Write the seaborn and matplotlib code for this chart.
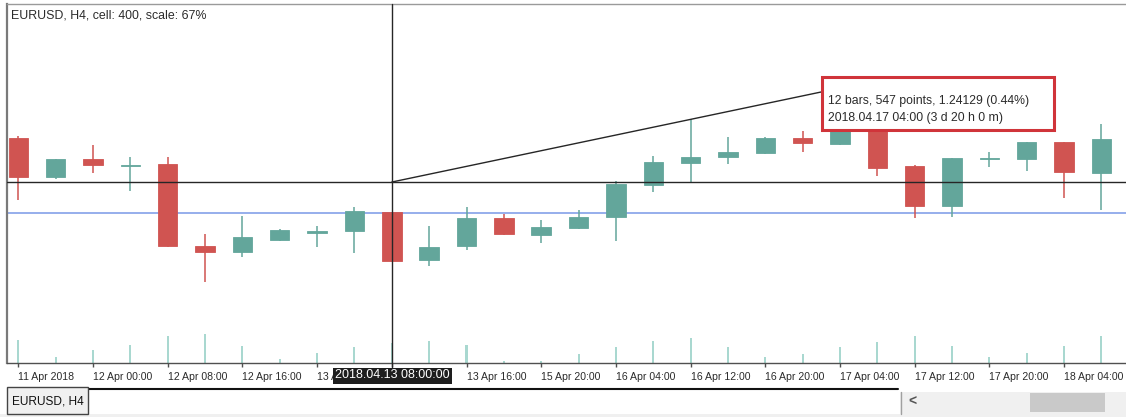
import matplotlib
matplotlib.use("Agg")
import matplotlib.pyplot as plt
from matplotlib.patches import Rectangle
from matplotlib.lines import Line2D
import numpy as np
import pandas as pd
import seaborn as sns

# ---- EURUSD H4 bars ----
symbol = "EURUSD"
timeframe = "H4"
opens = [1.23836, 1.23611, 1.23716, 1.23678, 1.23685, 1.23211, 1.23173, 1.23243, 1.23288, 1.23295,
         1.23406, 1.23126, 1.23208, 1.23374, 1.23274, 1.23314, 1.23377, 1.23565, 1.23691, 1.23726,
         1.23749, 1.23838, 1.23805, 1.23890, 1.23677, 1.23441, 1.23716, 1.23718, 1.23816, 1.23633]
highs = [1.23851, 1.23718, 1.23797, 1.23729, 1.23729, 1.23279, 1.23386, 1.23309, 1.23326, 1.23435,
         1.23408, 1.23326, 1.23435, 1.23398, 1.23361, 1.23421, 1.23588, 1.23732, 1.23949, 1.23846,
         1.23846, 1.23879, 1.24129, 1.23900, 1.23679, 1.23723, 1.23755, 1.23817, 1.23817, 1.23920]
lows = [1.23477, 1.23598, 1.23633, 1.23531, 1.23205, 1.22998, 1.23147, 1.23241, 1.23206, 1.23167,
        1.23118, 1.23093, 1.23188, 1.23274, 1.23227, 1.23307, 1.23240, 1.23526, 1.23580, 1.23685,
        1.23743, 1.23757, 1.23800, 1.23619, 1.23371, 1.23377, 1.23668, 1.23644, 1.23491, 1.23419]
closes = [1.23611, 1.23716, 1.23679, 1.23684, 1.23208, 1.23173, 1.23260, 1.23301, 1.23297, 1.23413,
          1.23121, 1.23206, 1.23374, 1.23281, 1.23320, 1.23380, 1.23569, 1.23697, 1.23729, 1.23757,
          1.23838, 1.23807, 1.23896, 1.23665, 1.23441, 1.23723, 1.23722, 1.23816, 1.23640, 1.23830]
volumes = [23300, 5700, 12700, 18300, 26700, 29000, 17300, 4300, 10300, 16300,
           20000, 21700, 18300, 2300, 2000, 9300, 16000, 21700, 25300, 16300,
           5700, 9300, 16300, 20700, 26700, 17300, 5700, 10300, 17300, 26700]
time_ticks = [0, 2, 4, 6, 8, 10, 12, 14, 16, 18, 20, 22, 24, 26, 28]
time_labels = ["11 Apr 2018", "12 Apr 00:00", "12 Apr 08:00", "12 Apr 16:00", "13 Apr 00:00",
               "13 Apr 08:00", "13 Apr 16:00", "15 Apr 20:00", "16 Apr 04:00", "16 Apr 12:00",
               "16 Apr 20:00", "17 Apr 04:00", "17 Apr 12:00", "17 Apr 20:00", "18 Apr 04:00"]

bid_price = 1.23402
cross_bar, cross_price = 10, 1.23582
cursor_bar, cursor_price = 22, 1.24129
cross_time = "2018.04.13 08:00:00"
cursor_time = "2018.04.17 04:00 (3 d 20 h 0 m)"

df = pd.DataFrame({"bar": np.arange(len(opens)), "open": opens, "high": highs,
                   "low": lows, "close": closes, "volume": volumes})
df["up"] = df["close"] >= df["open"]

UP = "#63a69b"
DOWN = "#d05451"
VOL = "#a9d8d0"
TXT = "#2b2b2b"

sns.set_style("white")
plt.rcParams["font.family"] = ["Liberation Sans", "DejaVu Sans"]

W, H = 1126, 417
fig = plt.figure(figsize=(W / 100, H / 100), dpi=100)
fig.patch.set_facecolor("white")


def fx(x):
    return x / W


def fy(y):
    return 1 - y / H


# chart window in pixels
L, R, T, B = 7, 1126, 4, 363
rect = [fx(L), fy(B), fx(R - L), (B - T) / H]

# volume layer (beneath) and price layer (on top) share the same frame
axv = fig.add_axes(rect)
ax = fig.add_axes(rect, sharex=axv)
ax.patch.set_alpha(0)

xlim = (-0.3025, 29.657)
axv.set_xlim(*xlim)
sns.barplot(data=df, x="bar", y="volume", native_scale=True, width=0.055, color=VOL,
            saturation=1, errorbar=None, linewidth=0, ax=axv)
axv.set_ylim(0, 359000)
axv.set_xlabel("")
axv.set_ylabel("")
axv.set_yticks([])
for s in axv.spines.values():
    s.set_visible(False)
axv.tick_params(axis="x", which="both", bottom=False, labelbottom=False)

# candles: wicks then bodies
colors = np.where(df["up"], UP, DOWN)
ax.vlines(df["bar"], df["low"], df["high"], colors=colors, lw=1.1, zorder=2)
body_lo = np.minimum(df["open"], df["close"])
body_h = np.maximum(np.abs(df["close"] - df["open"]), 0.00003)
ax.bar(df["bar"], body_h, bottom=body_lo, width=0.52, color=colors,
       edgecolor=colors, linewidth=0.6, zorder=3)

ax.set_xlim(*xlim)
ax.set_ylim(1.22529, 1.24618)
ax.set_yticks([])

# bid line and crosshair
ax.axhline(bid_price, color="#8ea8ea", lw=1.3, zorder=1)
ax.axhline(cross_price, color="#262626", lw=1.0, zorder=4)
ax.axvline(cross_bar, ymin=-4 / (B - T), ymax=1, color="#262626", lw=1.0, zorder=4, clip_on=False)
ax.plot([cross_bar, cursor_bar], [cross_price, cursor_price], color="#262626", lw=1.0, zorder=4)

# frame
ax.spines["right"].set_visible(False)
ax.spines["left"].set_color("#7a7a7a")
ax.spines["left"].set_linewidth(1.6)
ax.spines["top"].set_color("#9a9a9a")
ax.spines["top"].set_linewidth(1.0)
ax.spines["bottom"].set_color("#505050")
ax.spines["bottom"].set_linewidth(1.0)

ax.set_xticks(time_ticks, time_labels)
for pos, lbl in zip(time_ticks, ax.get_xticklabels()):
    lbl.set_horizontalalignment("left")
    # the crosshair time label covers the regular label of its own bar
    if pos == cross_bar:
        lbl.set_visible(False)
ax.tick_params(axis="x", bottom=True, length=3.2, width=1, color="#505050",
               pad=3, labelsize=7.6, labelcolor=TXT)
ax.set_xlabel("")

# header
fig.text(fx(11), fy(16), f"{symbol}, {timeframe}, cell: 400, scale: 67%", fontsize=8.9,
         color=TXT, va="center", ha="left")

# measurement tooltip
n_bars = cursor_bar - cross_bar
points = round((cursor_price - cross_price) * 1e5)
pct = (cursor_price - cross_price) / cross_price * 100
fig.add_artist(Rectangle((fx(822), fy(130)), (1054 - 822) / W, (130 - 77) / H,
                         transform=fig.transFigure, facecolor="white", edgecolor="#d0343a",
                         linewidth=2.2, zorder=10))
fig.text(fx(828), fy(101), f"{n_bars} bars, {points} points, {cursor_price:.5f} ({pct:.2f}%)",
         fontsize=8.8, color=TXT, va="center", ha="left", zorder=11)
fig.text(fx(828), fy(117.5), cursor_time, fontsize=8.8, color=TXT, va="center", ha="left", zorder=11)

# crosshair time label
fig.add_artist(Rectangle((fx(333), fy(383.5)), 119 / W, 16 / H, transform=fig.transFigure,
                         facecolor="#1e1e1e", edgecolor="none", zorder=10))
fig.text(fx(392), fy(375.5), cross_time, fontsize=9, color="white", va="center", ha="center",
         zorder=11)

# bottom tab bar
fig.add_artist(Line2D([fx(88), fx(898)], [fy(389), fy(389)], transform=fig.transFigure,
                      color="#111111", lw=1.5, zorder=10))
fig.add_artist(Rectangle((fx(7), fy(414)), 81 / W, 27 / H, transform=fig.transFigure,
                         facecolor="#f0f0f0", edgecolor="#444444", linewidth=1.0, zorder=10))
fig.text(fx(12), fy(401), f"{symbol}, {timeframe}", fontsize=8.6, color="#111111",
         va="center", ha="left", zorder=11)

# horizontal scrollbar
fig.add_artist(Rectangle((fx(900), fy(414)), (1126 - 900) / W, 22 / H, transform=fig.transFigure,
                         facecolor="#f0f0f0", edgecolor="none", zorder=10))
fig.add_artist(Line2D([fx(900.5), fx(900.5)], [fy(392), fy(414)], transform=fig.transFigure,
                      color="#a0a0a0", lw=1.0, zorder=11))
fig.add_artist(Rectangle((fx(1030), fy(412)), 75 / W, 19 / H, transform=fig.transFigure,
                         facecolor="#c9c9c9", edgecolor="none", zorder=11))
fig.text(fx(912), fy(402), "<", fontsize=10, fontweight="bold", color="#555555",
         va="center", ha="center", zorder=12)
fig.add_artist(Rectangle((0, 0), 1, 3 / H, transform=fig.transFigure,
                         facecolor="#f0f0f0", edgecolor="none", zorder=9))

fig.savefig("out.png", dpi=100)
